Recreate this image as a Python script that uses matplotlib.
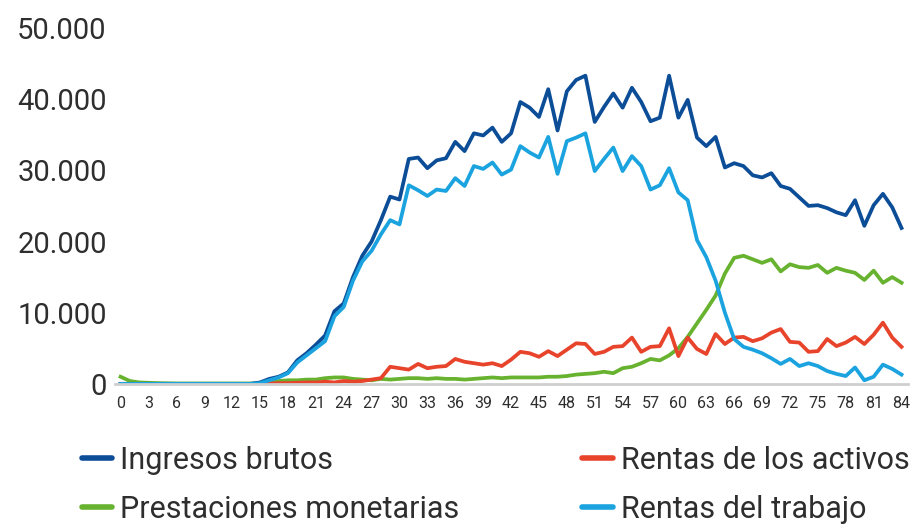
import matplotlib.pyplot as plt
from matplotlib.lines import Line2D
from matplotlib.ticker import FuncFormatter

plt.rcParams['font.family'] = ['Roboto', 'DejaVu Sans']

edades = list(range(0, 85))

ingresos_brutos = [
    0, 0, 0, 0, 0, 0, 0, 0, 0, 0,
    0, 0, 0, 0, 0, 200, 700, 1000, 1600, 3300,
    4300, 5500, 6800, 10200, 11300, 15000, 18000, 20000, 23000, 26300,
    25900, 31600, 31800, 30300, 31400, 31700, 34000, 32700, 35200, 34900,
    36000, 34000, 35200, 39600, 38800, 37500, 41400, 35600, 41100, 42700,
    43300, 36800, 38900, 40800, 38800, 41600, 39600, 36900, 37400, 43300,
    37400, 39900, 34600, 33400, 34700, 30400, 31000, 30600, 29300, 29000,
    29600, 27800, 27400, 26200, 25000, 25100, 24700, 24100, 23700, 25800,
    22200, 25100, 26700, 24800, 21900,
]

rentas_trabajo = [
    0, 0, 0, 0, 0, 0, 0, 0, 0, 0,
    0, 0, 0, 0, 0, 100, 500, 900, 1500, 3000,
    4000, 5000, 6000, 9500, 10800, 14500, 17200, 18700, 21000, 23000,
    22400, 27900, 27200, 26400, 27300, 27100, 28900, 27800, 30600, 30200,
    31100, 29400, 30100, 33400, 32500, 31800, 34700, 29500, 34100, 34600,
    35200, 29900, 31600, 33200, 29900, 32000, 30600, 27300, 27900, 30300,
    26900, 25800, 20200, 17800, 14500, 10000, 6300, 5200, 4800, 4300,
    3600, 2800, 3500, 2500, 2900, 2500, 1800, 1400, 1100, 2300,
    500, 1000, 2700, 2100, 1300,
]

prestaciones = [
    1000, 400, 200, 150, 100, 80, 50, 50, 50, 50,
    50, 50, 50, 50, 50, 100, 300, 400, 500, 500,
    600, 600, 800, 900, 900, 700, 600, 500, 700, 600,
    700, 800, 800, 700, 800, 700, 700, 600, 700, 800,
    900, 800, 900, 900, 900, 900, 1000, 1000, 1100, 1300,
    1400, 1500, 1700, 1500, 2200, 2400, 2900, 3500, 3300, 4000,
    5000, 6600, 8500, 10400, 12400, 15500, 17700, 18000, 17500, 17000,
    17500, 15800, 16800, 16400, 16300, 16700, 15600, 16300, 15900, 15600,
    14600, 15900, 14200, 15000, 14200,
]

rentas_activos = [
    0, 0, 0, 0, 0, 0, 0, 0, 0, 0,
    0, 0, 0, 0, 0, 0, 50, 100, 100, 150,
    200, 200, 300, 200, 400, 300, 400, 600, 800, 2400,
    2200, 2000, 2800, 2200, 2400, 2500, 3500, 3100, 2900, 2700,
    2900, 2500, 3400, 4500, 4300, 3800, 4600, 3900, 4800, 5700,
    5600, 4200, 4500, 5200, 5300, 6500, 4500, 5200, 5300, 7800,
    3900, 6500, 4900, 4200, 7000, 5600, 6500, 6600, 6000, 6400,
    7200, 7700, 5900, 5800, 4500, 4600, 6300, 5300, 5800, 6600,
    5600, 6900, 8600, 6500, 5200,
]

nombres = ["Ingresos brutos", "Prestaciones monetarias",
           "Rentas de los activos", "Rentas del trabajo"]
colores = {"Ingresos brutos": "#0c4d98",
           "Rentas del trabajo": "#1aa3df",
           "Prestaciones monetarias": "#67b22f",
           "Rentas de los activos": "#e8432b"}

texto = "#2e2e2e"

fig = plt.figure(figsize=(9.2, 5.28), dpi=100)
ax = fig.add_axes([0.125, 0.273, 0.862, 0.674])

lw = 2.7
ax.plot(edades, prestaciones, color=colores["Prestaciones monetarias"], lw=lw, solid_joinstyle='round')
ax.plot(edades, rentas_activos, color=colores["Rentas de los activos"], lw=lw, solid_joinstyle='round')
ax.plot(edades, ingresos_brutos, color=colores["Ingresos brutos"], lw=lw, solid_joinstyle='round')
ax.plot(edades, rentas_trabajo, color=colores["Rentas del trabajo"], lw=lw, solid_joinstyle='round')

ax.set_xlim(-0.6, 84.7)
ax.set_ylim(0, 50000)
ax.set_yticks(range(0, 50001, 10000))
ax.yaxis.set_major_formatter(FuncFormatter(lambda v, p: f"{int(v):,}".replace(",", ".")))
ax.set_xticks(range(0, 85, 3))

for s in ["top", "right", "left"]:
    ax.spines[s].set_visible(False)
ax.spines["bottom"].set_color("#cfcfcf")
ax.spines["bottom"].set_linewidth(2)
ax.tick_params(axis="y", length=0, pad=6, labelsize=21, labelcolor=texto)
ax.tick_params(axis="x", length=0, pad=9, labelsize=11.5, labelcolor=texto)

handles = [Line2D([], [], color=colores[n], lw=4, solid_capstyle='round') for n in nombres]
opts = dict(loc="upper left", frameon=False, fontsize=22, handlelength=1.0,
            handletextpad=0.25, labelspacing=0.66, labelcolor=texto,
            borderaxespad=0, borderpad=0)
fig.legend(handles[:2], nombres[:2], bbox_to_anchor=(0.089, 0.156), **opts)
fig.legend(handles[2:], nombres[2:], bbox_to_anchor=(0.633, 0.156), **opts)

fig.savefig("out.png", dpi=100)
